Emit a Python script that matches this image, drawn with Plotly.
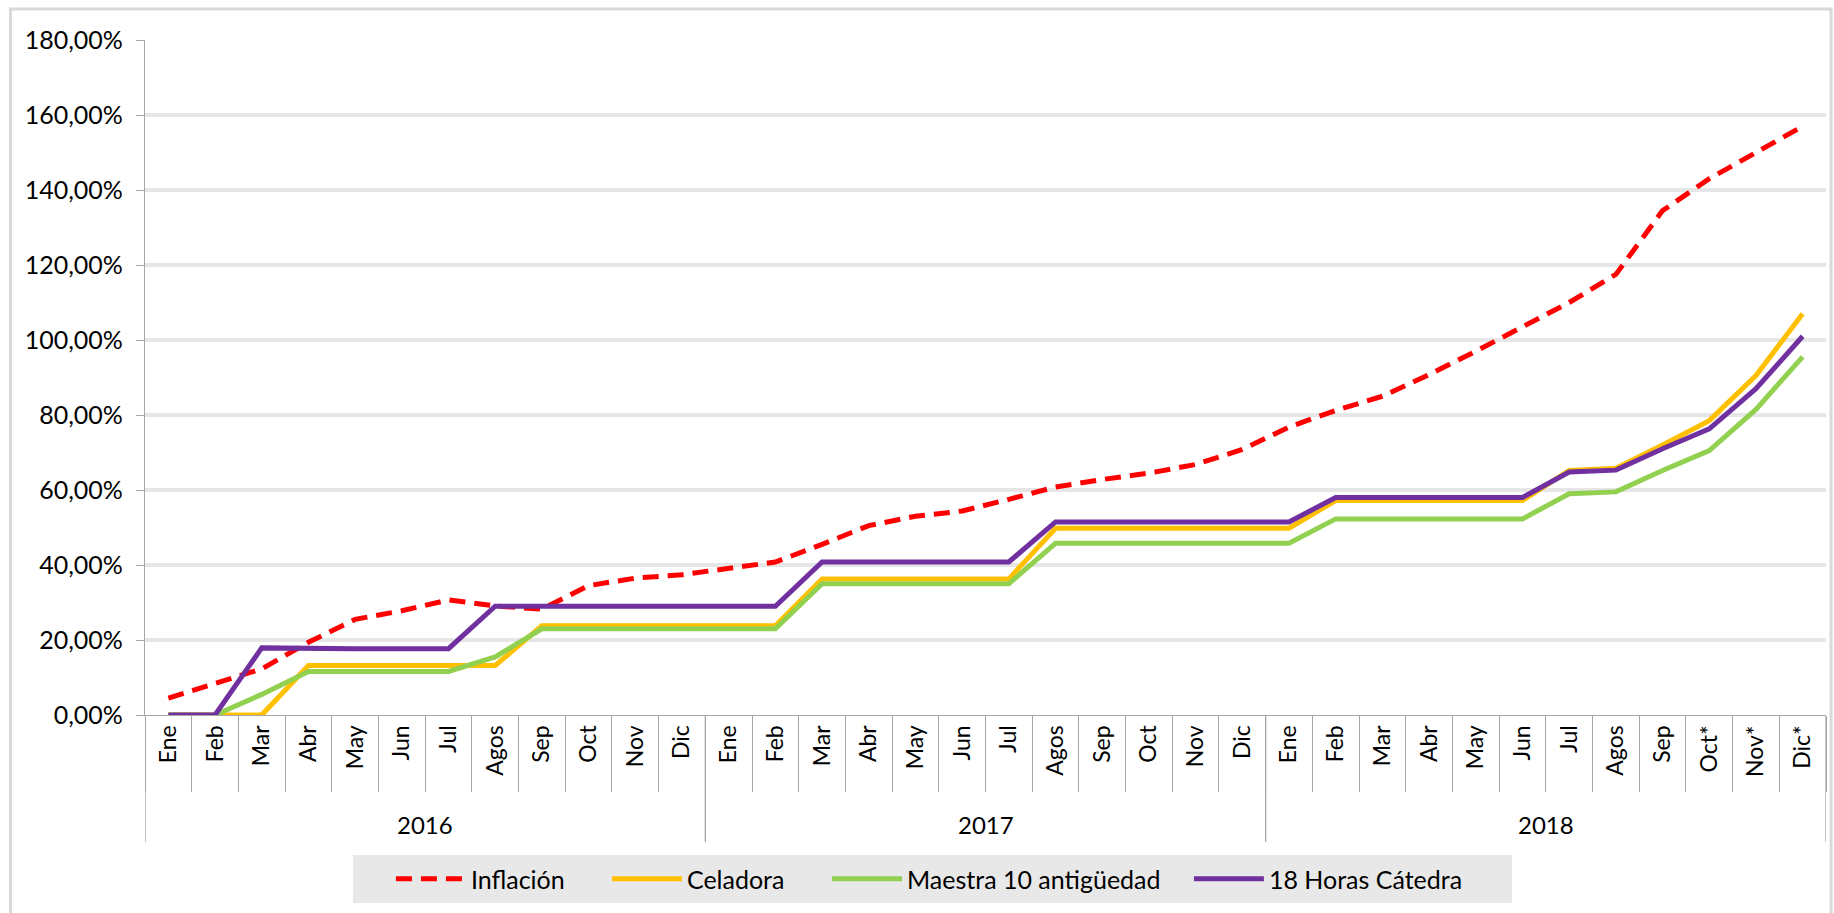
import plotly.graph_objects as go

# categories
years = ["2016", "2017", "2018"]
months = ["Ene", "Feb", "Mar", "Abr", "May", "Jun", "Jul", "Agos", "Sep", "Oct", "Nov", "Dic"]
months_2018 = ["Ene", "Feb", "Mar", "Abr", "May", "Jun", "Jul", "Agos", "Sep", "Oct*", "Nov*", "Dic*"]
month_labels = months + months + months_2018

# series values (%)
inflacion = [4.5, 8.3, 12.3, 19.4, 25.5, 27.8, 30.7, 29.1, 28.2, 34.5, 36.5, 37.4,
             39.0, 40.8, 45.5, 50.5, 53.0, 54.4, 57.5, 60.8, 62.8, 64.5, 66.8, 70.8,
             76.8, 81.2, 85.0, 90.8, 97.0, 103.5, 110.0, 117.5, 134.5, 143.0, 150.0, 157.0]
celadora = [0.0, 0.0, 0.0, 13.2, 13.2, 13.2, 13.2, 13.2, 23.8, 23.8, 23.8, 23.8,
            23.8, 23.8, 36.3, 36.3, 36.3, 36.3, 36.3, 49.8, 49.8, 49.8, 49.8, 49.8,
            49.8, 57.2, 57.2, 57.2, 57.2, 57.2, 65.2, 65.8, 72.0, 78.5, 90.5, 107.0]
maestra = [0.0, 0.0, 5.5, 11.6, 11.6, 11.6, 11.6, 15.5, 23.0, 23.0, 23.0, 23.0,
           23.0, 23.0, 35.0, 35.0, 35.0, 35.0, 35.0, 45.8, 45.8, 45.8, 45.8, 45.8,
           45.8, 52.3, 52.3, 52.3, 52.3, 52.3, 59.0, 59.5, 65.2, 70.5, 81.5, 95.5]
horas = [0.0, 0.0, 17.9, 17.7, 17.7, 17.7, 17.7, 29.0, 29.0, 29.0, 29.0, 29.0,
         29.0, 29.0, 40.8, 40.8, 40.8, 40.8, 40.8, 51.5, 51.5, 51.5, 51.5, 51.5,
         51.5, 58.0, 58.0, 58.0, 58.0, 58.0, 64.8, 65.3, 71.0, 76.3, 87.0, 101.0]

x = list(range(len(month_labels)))
font = "Lato, 'Open Sans', sans-serif"
axis_grey = "#A6A6A6"

fig = go.Figure()

# one legend per series so the entries can be spread like the original
series = [
    ("Inflación", inflacion, "#FF0000", "16px,9px", "legend", 0.1463),
    ("Celadora", celadora, "#FFC000", "solid", "legend2", 0.2748),
    ("Maestra 10 antigüedad", maestra, "#92D050", "solid", "legend3", 0.4057),
    ("18 Horas Cátedra", horas, "#7030A0", "solid", "legend4", 0.621),
]
legends = {}
for name, values, color, dash, leg, lx in series:
    fig.add_trace(go.Scatter(
        x=x, y=values, name=name, mode="lines", legend=leg,
        line=dict(color=color, width=5, dash=dash),
    ))
    legends[leg] = dict(
        x=lx, xanchor="left", y=-0.243, yanchor="middle", orientation="h",
        bgcolor="rgba(0,0,0,0)", itemwidth=70,
        font=dict(family=font, size=25, color="#000000"),
    )

# year separators and year labels under the month labels
n = len(months)
for i, year in enumerate(years):
    fig.add_annotation(
        x=i * n + (n - 1) / 2, y=-0.186, xref="x", yref="paper",
        text=year, showarrow=False, font=dict(family=font, size=24, color="#000000"),
    )
for b in range(len(years) + 1):
    fig.add_shape(
        type="line", xref="x", yref="paper",
        x0=b * n - 0.5, x1=b * n - 0.5, y0=0, y1=-0.188,
        line=dict(color=axis_grey, width=1.3),
    )

# legend background box
fig.add_shape(
    type="rect", xref="paper", yref="paper", layer="below",
    x0=0.1237, x1=0.8132, y0=-0.2074, y1=-0.2785,
    line=dict(width=0), fillcolor="#E8E8E8",
)

# chart border
fig.add_shape(
    type="rect", xref="paper", yref="paper",
    x0=-0.08, x1=1.003, y0=-0.3, y1=1.046,
    line=dict(color="#D9D9D9", width=3),
)

fig.update_layout(
    width=1834, height=913,
    margin=dict(l=145, r=8, t=40, b=198),
    paper_bgcolor="white", plot_bgcolor="white",
    separators=",.",
    font=dict(family=font, size=21, color="#000000"),
    showlegend=True,
    xaxis=dict(
        range=[-0.5, len(x) - 0.5],
        tickmode="array", tickvals=x, ticktext=month_labels,
        tickangle=-90, ticks="", showgrid=False, zeroline=False,
        showline=True, linecolor=axis_grey, linewidth=1.3,
        tickfont=dict(family=font, size=23, color="#000000"),
        minor=dict(tickmode="linear", tick0=-0.5, dtick=1, ticks="outside",
                   ticklen=76, tickcolor=axis_grey, tickwidth=1.3, showgrid=False),
    ),
    yaxis=dict(
        range=[0, 180], dtick=20, tickformat=".2f", ticksuffix="%",
        showgrid=True, gridcolor="#E6E6E6", gridwidth=4, zeroline=False,
        showline=True, linecolor=axis_grey, linewidth=1.3,
        ticks="outside", ticklen=8, tickcolor=axis_grey, tickwidth=1.3,
        ticklabelstandoff=8,
        tickfont=dict(family=font, size=25, color="#000000"),
    ),
    **legends,
)

fig.write_html("out.html", config={"displayModeBar": False},
               post_script="document.body.style.margin='0';")
